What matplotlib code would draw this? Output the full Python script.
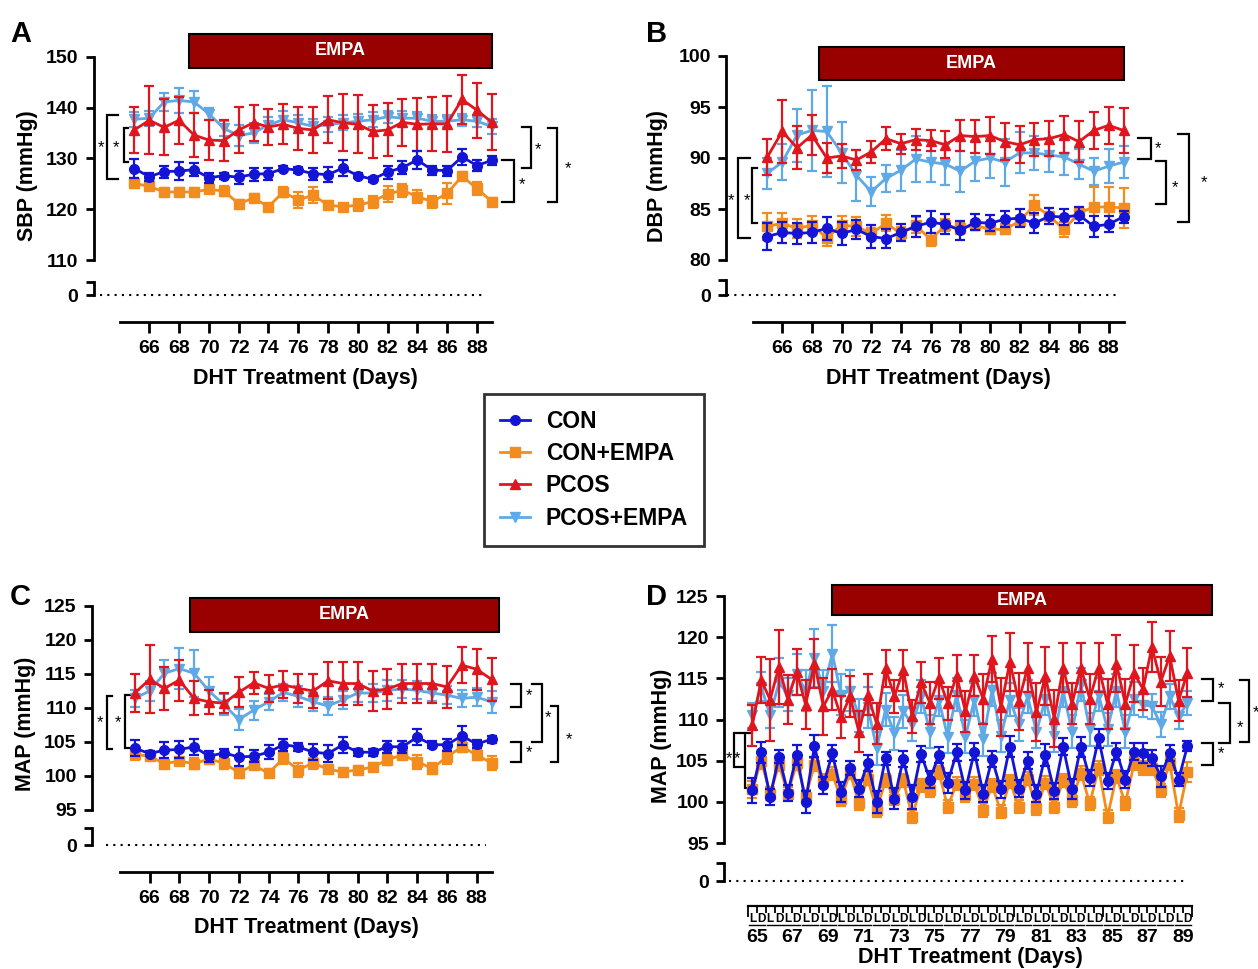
import numpy as np
import matplotlib
matplotlib.use('Agg')
import matplotlib.pyplot as plt
from matplotlib.lines import Line2D
from matplotlib.patches import Rectangle

plt.rcParams['font.family'] = ['Liberation Sans', 'DejaVu Sans']
plt.rcParams['font.weight'] = 'bold'

W, H = 1258, 969

days = list(range(65, 90))
ld_days = list(range(65, 90, 2))

# ---- A: SBP ----
a_con = [128.0, 126.4, 127.4, 127.5, 127.8, 126.2, 126.6, 126.3, 126.9, 127.0, 128.0, 127.7, 127.0,
         126.8, 128.1, 126.6, 125.9, 127.3, 128.2, 129.7, 127.7, 127.6, 130.3, 128.6, 129.6]
a_con_err = [1.8, 0.8, 1.2, 1.8, 1.3, 1.0, 0.6, 1.3, 1.3, 1.2, 0.5, 0.6, 1.2, 1.5, 1.5, 0.5, 0.5,
             1.3, 1.2, 1.7, 0.9, 1.0, 1.6, 1.0, 0.9]
a_empa = [125.1, 124.5, 123.4, 123.4, 123.4, 123.9, 123.6, 121.1, 122.2, 120.5, 123.4, 121.8, 122.8,
          120.8, 120.5, 120.8, 121.5, 123.0, 123.7, 122.5, 121.5, 123.1, 126.5, 124.1, 121.5]
a_empa_err = [1.0, 0.8, 0.8, 0.8, 0.8, 0.8, 1.0, 0.8, 0.8, 0.5, 1.0, 1.5, 1.5, 0.8, 0.5, 1.2, 1.2,
              1.5, 1.2, 1.2, 1.2, 2.0, 0.8, 1.2, 0.8]
a_pcos = [135.6, 137.5, 136.1, 137.5, 134.6, 133.6, 133.5, 135.6, 137.0, 136.2, 136.7, 135.9, 135.6,
          137.6, 137.0, 136.7, 135.3, 135.6, 137.1, 136.7, 136.8, 136.8, 141.6, 139.5, 137.1]
a_pcos_err = [4.5, 6.7, 5.5, 4.6, 4.4, 4.0, 4.0, 4.5, 3.5, 3.5, 3.9, 4.2, 4.5, 4.6, 5.6, 5.7, 5.2,
              5.2, 4.6, 5.2, 5.3, 5.5, 4.8, 5.4, 5.5]
a_pe = [137.7, 137.9, 141.1, 141.4, 141.1, 138.8, 135.9, 134.5, 135.0, 136.6, 137.6, 137.0, 136.3,
        136.6, 137.0, 137.3, 137.6, 138.2, 137.9, 137.9, 137.3, 137.3, 137.6, 137.3, 136.3]
a_pe_err = [1.5, 1.5, 1.8, 2.5, 2.2, 1.2, 1.5, 2.0, 2.0, 1.5, 1.8, 1.5, 1.5, 1.5, 1.5, 1.5, 1.5,
            1.2, 1.5, 1.2, 1.2, 1.2, 1.2, 1.2, 1.5]

# ---- B: DBP ----
b_con = [82.3, 82.7, 82.6, 82.7, 83.1, 82.6, 83.0, 82.3, 82.1, 82.7, 83.3, 83.7, 83.5, 82.9, 83.7,
         83.6, 84.0, 84.1, 83.6, 84.3, 84.2, 84.4, 83.3, 83.5, 84.25]
b_con_err = [1.3, 1.0, 1.0, 1.0, 1.1, 1.1, 0.9, 1.1, 0.9, 0.8, 1.0, 1.1, 1.0, 0.9, 0.8, 0.8, 0.8,
             0.9, 1.0, 0.8, 0.8, 0.8, 1.0, 0.8, 0.6]
b_empa = [83.3, 83.6, 83.1, 83.4, 82.2, 83.4, 83.3, 82.6, 83.6, 82.6, 83.4, 82.0, 83.4, 83.1, 83.4,
          83.0, 83.0, 83.8, 85.4, 84.3, 83.0, 84.6, 85.2, 85.2, 85.1]
b_empa_err = [1.3, 1.0, 0.9, 0.9, 0.8, 0.9, 0.9, 0.5, 0.8, 0.6, 0.8, 0.6, 0.6, 0.6, 0.5, 0.5, 0.5,
              0.5, 1.0, 0.8, 0.7, 0.6, 2.0, 2.0, 2.0]
b_pcos = [90.1, 92.6, 91.0, 92.25, 90.0, 90.2, 89.8, 90.6, 91.9, 91.4, 91.8, 91.7, 91.3, 92.2, 92.1,
          92.2, 91.6, 91.3, 91.8, 91.9, 92.3, 91.6, 92.7, 93.2, 92.7]
b_pcos_err = [1.8, 3.1, 2.1, 2.0, 1.5, 1.2, 1.0, 1.1, 1.1, 1.0, 1.0, 1.0, 1.3, 1.5, 1.6, 1.8, 1.8,
              1.8, 1.6, 1.7, 1.8, 2.0, 1.8, 1.8, 2.2]
b_pe = [88.5, 89.6, 92.25, 92.7, 92.6, 90.5, 88.3, 86.7, 88.0, 88.8, 89.9, 89.6, 89.4, 88.7, 89.7,
        90.0, 89.6, 90.5, 90.5, 90.3, 90.1, 89.4, 88.7, 89.2, 89.6]
b_pe_err = [1.5, 1.8, 2.6, 4.0, 4.5, 3.0, 2.5, 1.4, 1.3, 2.0, 2.3, 2.0, 2.0, 2.0, 2.0, 2.0, 2.3,
            2.0, 1.7, 1.7, 1.8, 1.5, 1.3, 1.7, 1.6]

# ---- C: MAP ----
c_con = [104.1, 103.3, 103.8, 103.9, 104.3, 102.9, 103.4, 102.8, 102.9, 103.5, 104.6, 104.3, 103.5,
         103.3, 104.6, 103.5, 103.5, 104.3, 104.3, 105.7, 104.6, 104.6, 105.9, 104.7, 105.4]
c_con_err = [1.2, 0.4, 1.2, 1.3, 1.2, 0.8, 0.5, 1.4, 0.9, 1.0, 0.9, 0.6, 1.2, 1.2, 1.2, 0.5, 0.5,
             0.9, 0.9, 1.2, 0.5, 0.9, 1.4, 0.6, 0.5]
c_empa = [103.2, 102.9, 101.8, 102.2, 101.8, 102.5, 101.9, 100.5, 101.6, 100.4, 102.6, 100.9, 101.9,
          101.0, 100.6, 100.9, 101.3, 102.4, 103.1, 102.1, 101.1, 102.8, 104.3, 103.1, 101.9]
c_empa_err = [0.8, 0.6, 0.6, 0.6, 0.8, 0.8, 0.8, 0.8, 0.6, 0.6, 0.8, 1.0, 0.8, 0.6, 0.6, 0.6, 0.6,
              0.8, 0.6, 1.0, 0.8, 1.0, 0.8, 0.8, 1.0]
c_pcos = [112.2, 114.2, 112.9, 114.1, 111.4, 110.9, 110.7, 112.3, 113.7, 112.9, 113.4, 112.9, 112.5,
          114.0, 113.6, 113.6, 112.5, 112.8, 113.6, 113.6, 113.6, 113.1, 116.3, 115.7, 114.2]
c_pcos_err = [2.8, 5.0, 3.2, 3.0, 2.5, 1.8, 1.5, 2.2, 1.6, 2.0, 2.0, 2.1, 2.5, 2.7, 3.2, 3.2, 3.0,
              3.0, 2.8, 2.8, 2.8, 3.1, 2.6, 3.0, 3.1]
c_pe = [111.4, 112.5, 115.1, 115.8, 115.1, 112.5, 110.5, 108.3, 109.7, 110.9, 112.3, 111.7, 110.9,
        110.3, 111.2, 112.2, 112.2, 112.6, 112.8, 112.6, 112.2, 111.9, 111.4, 111.6, 110.9]
c_pe_err = [1.3, 1.5, 2.0, 3.0, 3.5, 2.0, 1.5, 1.6, 1.4, 1.2, 1.3, 1.5, 1.3, 1.3, 1.3, 1.3, 1.3,
            1.5, 1.3, 1.3, 1.2, 1.3, 1.2, 1.3, 1.6]

# ---- D: MAP light/dark (index 0..49 = 65L, 65D, ... 89D) ----
d_con = [101.4, 106.0, 100.6, 105.5, 101.1, 105.7, 100.0, 106.8, 102.0, 105.9,
         101.2, 104.1, 101.6, 104.7, 100.0, 105.3, 100.4, 105.2, 100.6, 105.8,
         102.7, 105.7, 102.3, 106.0, 101.4, 106.1, 101.0, 105.2, 101.5, 106.7,
         101.6, 105.0, 101.0, 105.7, 101.3, 106.7, 101.6, 106.7, 102.9, 107.7,
         102.5, 106.1, 102.7, 106.1, 105.9, 105.3, 103.1, 105.9, 102.7, 106.8]
d_con_err = [1.5, 1.3, 1.0, 0.8, 1.0, 1.2, 1.3, 1.3, 1.0, 1.0,
             1.2, 0.8, 1.0, 1.0, 1.3, 0.8, 1.3, 1.0, 1.5, 1.0,
             1.0, 1.0, 1.2, 1.0, 1.0, 1.0, 1.0, 1.0, 1.0, 1.3,
             1.0, 1.0, 1.0, 1.3, 1.0, 1.0, 1.2, 1.2, 1.0, 1.2,
             1.0, 1.0, 1.0, 1.0, 1.2, 1.0, 1.3, 1.0, 0.8, 0.6]
d_empa = [101.5, 105.0, 101.0, 104.5, 101.0, 104.7, 100.6, 104.5, 102.6, 103.4,
          100.3, 103.6, 99.8, 102.8, 99.0, 102.6, 100.4, 102.6, 98.2, 102.0,
          101.4, 103.6, 99.4, 102.2, 100.8, 102.2, 99.0, 102.0, 98.8, 102.5,
          99.4, 102.8, 99.2, 102.3, 99.4, 102.6, 100.2, 103.5, 99.8, 104.1,
          98.2, 103.1, 99.8, 104.7, 104.1, 104.1, 101.4, 104.7, 98.4, 103.6]
d_empa_err = [1.0, 1.0, 0.8, 0.8, 0.8, 0.8, 0.8, 0.8, 0.8, 0.8,
              0.8, 0.8, 0.8, 0.8, 0.8, 0.8, 0.8, 0.8, 0.8, 0.8,
              0.8, 0.8, 0.8, 0.8, 0.8, 0.8, 0.8, 0.8, 0.8, 0.8,
              0.8, 0.8, 0.8, 0.8, 0.8, 0.8, 0.8, 0.8, 0.8, 0.8,
              0.8, 0.8, 0.8, 0.8, 0.8, 0.8, 0.8, 0.8, 0.8, 1.2]
d_pcos = [109.3, 114.8, 112.4, 116.4, 112.4, 115.8, 111.8, 116.8, 111.6, 113.6,
          110.3, 112.8, 108.5, 113.0, 109.5, 116.2, 112.8, 116.0, 110.4, 114.5,
          112.0, 115.0, 112.0, 115.3, 111.0, 115.3, 112.5, 117.4, 111.5, 117.0,
          112.2, 116.3, 110.9, 115.3, 110.1, 116.3, 111.9, 116.3, 112.5, 116.3,
          111.9, 116.8, 111.9, 115.6, 113.7, 118.8, 114.6, 117.7, 112.3, 115.7]
d_pcos_err = [2.5, 2.8, 5.0, 4.5, 3.0, 2.8, 3.0, 3.0, 3.5, 2.5,
              2.5, 2.5, 2.5, 2.5, 2.5, 2.2, 2.0, 2.5, 2.0, 2.5,
              2.5, 2.5, 2.0, 2.5, 2.5, 2.5, 3.0, 2.8, 3.5, 3.5,
              3.5, 3.0, 3.5, 3.5, 3.5, 3.0, 2.5, 3.0, 3.0, 3.0,
              3.0, 3.5, 3.0, 3.5, 2.5, 3.0, 3.0, 3.0, 2.5, 3.0]
d_pe = [110.5, 114.0, 110.5, 114.5, 113.0, 115.5, 113.5, 117.5, 113.5, 118.0,
        113.0, 113.5, 110.5, 111.5, 106.5, 111.2, 108.3, 111.0, 109.4, 112.8,
        108.5, 112.4, 107.9, 113.0, 107.9, 112.4, 107.6, 113.6, 108.0, 112.4,
        109.4, 112.8, 108.5, 112.5, 108.0, 113.5, 108.5, 114.3, 108.8, 113.0,
        108.8, 113.5, 108.5, 112.5, 111.8, 111.6, 109.4, 112.8, 110.4, 112.0]
d_pe_err = [1.5, 1.8, 1.5, 3.0, 2.0, 2.5, 2.5, 3.5, 2.5, 3.5,
            2.5, 2.5, 2.0, 2.5, 2.0, 2.0, 2.0, 2.0, 2.0, 2.0,
            2.0, 2.0, 2.0, 2.0, 2.0, 2.0, 2.0, 2.0, 2.0, 2.0,
            2.0, 2.0, 2.0, 2.0, 2.0, 2.0, 2.0, 2.0, 2.0, 2.0,
            2.0, 2.0, 2.0, 2.0, 1.5, 1.5, 1.5, 1.5, 1.5, 1.5]

labels = ['CON', 'CON+EMPA', 'PCOS', 'PCOS+EMPA']
colors = ['#1414d6', '#f28c1e', '#e0161e', '#5ea9e6']
markers = ['o', 's', '^', 'v']
zorders = [6, 5, 4, 3]
empa_color = '#990000'

fig = plt.figure(figsize=(W / 100, H / 100), dpi=100)


def px_axes(left, top, right, bottom):
    ax = fig.add_axes([left / W, 1 - bottom / H, (right - left) / W, (bottom - top) / H])
    ax.patch.set_alpha(0)
    return ax


def make_panel(yaxis_px, ppu, xlim, top_px, bot_px, ylim, yticks, zero_px):
    right_px = yaxis_px + (xlim[1] - xlim[0]) * ppu
    ax = px_axes(yaxis_px, top_px, right_px, bot_px)
    ax.set_xlim(*xlim)
    ax.set_ylim(*ylim)
    for s in ['top', 'right', 'bottom']:
        ax.spines[s].set_visible(False)
    ax.spines['left'].set_linewidth(2)
    ax.set_xticks([])
    ax.set_yticks(yticks)
    ax.tick_params(axis='y', length=6, width=2, pad=5, labelsize=14)
    # broken-axis stub holding the zero line
    az = px_axes(yaxis_px, zero_px[0], right_px, zero_px[1])
    az.set_xlim(*xlim)
    az.set_ylim(0, 1)
    for s in ['top', 'right', 'bottom']:
        az.spines[s].set_visible(False)
    az.spines['left'].set_linewidth(2)
    az.set_xticks([])
    az.set_yticks([0, 1])
    az.set_yticklabels(['0', ''])
    az.tick_params(axis='y', length=6, width=2, pad=5, labelsize=14)
    return ax, az, right_px


def plot_groups(ax, x, groups, ms=7):
    for (y, e), c, m, z in zip(groups, colors, markers, zorders):
        ax.errorbar(x, y, yerr=e, color=c, marker=m, ms=ms, lw=2, elinewidth=1.6,
                    capsize=3.5, capthick=1.6, zorder=z, clip_on=False)


def empa_bar(ax, x0, x1, y0, y1, fs=13):
    ax.add_patch(Rectangle((x0, y0), x1 - x0, y1 - y0, facecolor=empa_color, edgecolor='black',
                           lw=1.5, clip_on=False, zorder=8))
    ax.text((x0 + x1) / 2, (y0 + y1) / 2, 'EMPA', color='white', fontsize=fs, ha='center',
            va='center', zorder=9, clip_on=False)


def bracket(ax, x, y0, y1, arm, sx, sy):
    ax.plot([arm, x, x, arm], [y0, y0, y1, y1], color='black', lw=1.6, clip_on=False,
            solid_joinstyle='miter')
    ax.text(sx, sy, '*', ha='center', va='center', fontsize=12, fontweight='normal', clip_on=False)


def day_xaxis(yaxis_px, right_px, xlim, line_px):
    ax = px_axes(yaxis_px, line_px - 10, right_px, line_px)
    ax.set_xlim(*xlim)
    for s in ['top', 'right', 'left']:
        ax.spines[s].set_visible(False)
    ax.spines['bottom'].set_linewidth(2)
    ax.spines['bottom'].set_bounds(64, 89)
    ax.set_yticks([])
    ax.set_xticks(range(66, 89, 2))
    ax.tick_params(axis='x', length=8, width=2, pad=5, labelsize=14)
    return ax


def fig_text(x, y, s, **kw):
    fig.text(x / W, 1 - y / H, s, **kw)


# ================= Panel A =================
xa = (62.26, 89.6)
ax, az, rp = make_panel(93.6, 14.89, xa, 56.7, 260.1, (110, 150), range(110, 151, 10), (282, 295.3))
plot_groups(ax, days, [(a_con, a_con_err), (a_empa, a_empa_err), (a_pcos, a_pcos_err),
                       (a_pe, a_pe_err)])
empa_bar(ax, 68.67, 89.0, 147.8, 154.5)
az.plot([62.7, 88.6], [0, 0], color='black', lw=1.5, ls=(0, (1, 2.5)), clip_on=False)
bracket(ax, 63.17, 138.5, 125.9, 63.9, 62.76, 132.2)
bracket(ax, 64.3, 135.9, 129.3, 64.6, 63.77, 132.2)
bracket(ax, 91.66, 136.1, 128.1, 91.03, 92.1, 131.8)
bracket(ax, 90.51, 129.7, 121.4, 89.67, 91.0, 124.9)
bracket(ax, 93.4, 136.0, 121.4, 92.8, 94.1, 127.9)
day_xaxis(93.6, rp, xa, 321.7)
fig_text(305, 378, 'DHT Treatment (Days)', fontsize=15.5, ha='center', va='center')
fig_text(27, 176, 'SBP (mmHg)', fontsize=15.5, ha='center', va='center', rotation=90)
fig_text(10, 20, 'A', fontsize=21, ha='left', va='top')

# ================= Panel B =================
xb = (62.22, 89.6)
ax, az, rp = make_panel(726.1, 14.84, xb, 56, 260, (80, 100), range(80, 101, 5), (280, 295))
plot_groups(ax, days, [(b_con, b_con_err), (b_empa, b_empa_err), (b_pcos, b_pcos_err),
                       (b_pe, b_pe_err)])
empa_bar(ax, 68.48, 89.0, 97.65, 100.9)
az.plot([62.3, 88.6], [0, 0], color='black', lw=1.5, ls=(0, (1, 2.5)), clip_on=False)
bracket(ax, 63.03, 89.97, 82.2, 63.8, 62.55, 85.8)
bracket(ax, 63.96, 89.05, 83.65, 64.3, 63.6, 85.8)
bracket(ax, 90.82, 92.0, 89.9, 89.96, 91.3, 90.9)
bracket(ax, 91.85, 89.75, 85.45, 91.17, 92.45, 87.1)
bracket(ax, 93.4, 92.35, 83.7, 92.66, 94.4, 87.6)
day_xaxis(726.1, rp, xb, 321.7)
fig_text(938, 378, 'DHT Treatment (Days)', fontsize=15.5, ha='center', va='center')
fig_text(658, 176, 'DBP (mmHg)', fontsize=15.5, ha='center', va='center', rotation=90)
fig_text(646, 20, 'B', fontsize=21, ha='left', va='top')

# ================= Panel C =================
xc = (62.13, 89.6)
ax, az, rp = make_panel(92, 14.87, xc, 606, 810, (95, 125), range(95, 126, 5), (828, 845))
plot_groups(ax, days, [(c_con, c_con_err), (c_empa, c_empa_err), (c_pcos, c_pcos_err),
                       (c_pe, c_pe_err)])
empa_bar(ax, 68.7, 89.5, 121.2, 126.2)
az.plot([63.1, 88.6], [0, 0], color='black', lw=1.5, ls=(0, (1, 2.5)), clip_on=False)
bracket(ax, 63.17, 111.8, 103.9, 63.45, 62.7, 107.9)
bracket(ax, 64.33, 111.9, 104.1, 64.7, 63.86, 107.9)
bracket(ax, 91.0, 113.5, 110.2, 90.3, 91.5, 111.8)
bracket(ax, 91.0, 105.0, 102.0, 90.3, 91.5, 103.5)
bracket(ax, 92.4, 113.5, 105.0, 91.7, 92.8, 108.6)
bracket(ax, 93.5, 110.3, 102.0, 93.0, 94.2, 105.4)
day_xaxis(92, rp, xc, 871.7)
fig_text(306, 928, 'DHT Treatment (Days)', fontsize=15.5, ha='center', va='center')
fig_text(26, 724, 'MAP (mmHg)', fontsize=15.5, ha='center', va='center', rotation=90)
fig_text(10, 583, 'C', fontsize=21, ha='left', va='top')

# ================= Panel D =================
kk = list(range(len(d_con)))
xd = (-3.19, 50.0)
ax, az, rp = make_panel(724, 8.88, xd, 596, 843, (95, 125), range(95, 126, 5), (863, 881))
plot_groups(ax, kk, [(d_con, d_con_err), (d_empa, d_empa_err), (d_pcos, d_pcos_err),
                     (d_pe, d_pe_err)])
empa_bar(ax, 8.96, 51.76, 122.7, 126.3)
az.plot([-2.6, 48.8], [0, 0], color='black', lw=1.5, ls=(0, (1, 2.5)), clip_on=False)
bracket(ax, -2.07, 108.35, 104.2, -0.95, -2.6, 105.2)
bracket(ax, -0.83, 108.35, 101.7, -0.05, -1.7, 105.2)
bracket(ax, 51.9, 114.9, 112.2, 50.6, 52.8, 113.7)
bracket(ax, 51.9, 107.1, 104.5, 50.6, 52.8, 105.9)
bracket(ax, 53.8, 112.0, 107.1, 52.5, 54.9, 109.0)
bracket(ax, 55.9, 114.8, 107.3, 54.9, 56.7, 110.8)

# nested light/dark axis
ax_ld = px_axes(724, 906, rp, 945)
ax_ld.set_xlim(*xd)
ax_ld.set_ylim(0, 1)
for s in ['bottom', 'right', 'left']:
    ax_ld.spines[s].set_visible(False)
ax_ld.spines['top'].set_linewidth(1.6)
ax_ld.spines['top'].set_bounds(-0.5, 49.5)
ax_ld.set_yticks([])
ax_ld.set_xticks(np.arange(-0.5, 50, 1), minor=True)
ax_ld.set_xticks([-0.5, 9.5, 19.5, 29.5, 39.5, 49.5])
ax_ld.tick_params(axis='x', which='both', top=True, bottom=False, labeltop=False,
                  labelbottom=False, direction='in', width=1.3)
ax_ld.tick_params(axis='x', which='major', length=8)
ax_ld.tick_params(axis='x', which='minor', length=5)


def yf(py):
    return (945 - py) / 39


for k in kk:
    ax_ld.text(k, yf(919), 'L' if k % 2 == 0 else 'D', fontsize=8.5, ha='center', va='center')
for j in range(len(d_con) // 2):
    ax_ld.plot([2 * j - 0.4, 2 * j + 1.4], [yf(925)] * 2, color='black', lw=1)
for d in ld_days:
    ax_ld.text(2 * (d - 65) + 0.5, yf(938), str(d), fontsize=14, ha='center', va='center')
fig_text(970, 958, 'DHT Treatment (Days)', fontsize=15.5, ha='center', va='center')
fig_text(662, 736, 'MAP (mmHg)', fontsize=15.5, ha='center', va='center', rotation=90)
fig_text(646, 583, 'D', fontsize=21, ha='left', va='top')

# ================= Legend =================
handles = [Line2D([0], [0], color=c, marker=m, lw=2, ms=7) for c, m in zip(colors, markers)]
leg = fig.legend(handles, labels, loc='upper left', bbox_to_anchor=(484 / W, 1 - 394 / H),
                 fontsize=16.5, frameon=True, fancybox=False, handlelength=1.3,
                 handletextpad=0.7, labelspacing=0.4, borderpad=0.7, borderaxespad=0)
leg.get_frame().set_edgecolor('black')
leg.get_frame().set_linewidth(2)

fig.savefig('out.png', dpi=100)
